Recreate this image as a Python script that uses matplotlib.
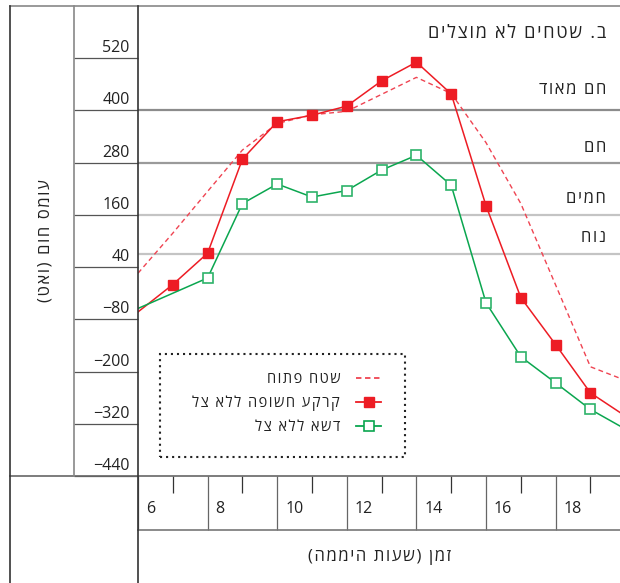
import matplotlib
matplotlib.use("Agg")
import matplotlib.pyplot as plt
from matplotlib.lines import Line2D
from matplotlib.patches import Rectangle
from matplotlib.transforms import ScaledTranslation

plt.rcParams["font.family"] = ["Open Sans", "DejaVu Sans"]
plt.rcParams["axes.unicode_minus"] = True

# hours of the day
hours = [6, 7, 8, 9, 10, 11, 12, 13, 14, 15, 16, 17, 18, 19, 20]
open_area = [26, 118, 214, 309, 370, 390, 398, 437, 476, 439, 326, 186, -1, -189, -220]
bare_soil = [-63, 0, 72, 288, 374, 389, 410, 468, 511, 438, 181, -30, -138, -249, -302]
grass_hours = [6, 8, 9, 10, 11, 12, 13, 14, 15, 16, 17, 18, 19, 20]
grass = [-55, 15, 186, 231, 201, 216, 263, 297, 228, -42, -166, -226, -287, -332]

yticks = [520, 400, 280, 160, 40, -80, -200, -320, -440]
xticks_major = [6, 8, 10, 12, 14, 16, 18]
xticks_minor = [7, 9, 11, 13, 15, 17, 19]

# comfort zones (heat load thresholds) and where their names sit
zone_lines = [400, 280, 160, 70]
zone_colors = ["#8c8c8c", "#9a9a9a", "#c4c4c4", "#c4c4c4"]
zone_names = ["חם מאוד", "חם", "חמים", "נוח"]
zone_label_y = [446, 314, 196, 107]

title = "ב. שטחים לא מוצלים"
ylabel = "עומס חום (ואט)"
xlabel = "זמן (שעות היממה)"
series_names = ["שטח פתוח", "קרקע חשופה ללא צל", "דשא ללא צל"]

RED = "#ed1c24"
RED_DASH = "#ef4452"
GREEN = "#0aa64f"


def rtl(s):
    # matplotlib has no bidi support: flip to visual order, mirror brackets,
    # and open the letters up a little with hair spaces
    swap = {"(": ")", ")": "("}
    return "\u200a".join(swap.get(c, c) for c in reversed(s))


W, H = 620, 583
fig = plt.figure(figsize=(W / 100, H / 100), dpi=100)


def fx(x):
    return x / W


def fy(y):
    return 1 - y / H


ax = fig.add_axes([fx(138), fy(476), fx(620) - fx(138), fy(6) - fy(476)])
ax.set_xlim(6, 19.85)
ax.set_ylim(-440, 640)
for s in ax.spines.values():
    s.set_visible(False)

for v, c in zip(zone_lines, zone_colors):
    ax.axhline(v, color=c, lw=1.6, zorder=1)

mark_red = [6 < h < 20 for h in hours]
mark_green = [6 < h < 20 for h in grass_hours]

ax.plot(hours, open_area, color=RED_DASH, lw=1.0, ls=(0, (3.5, 2.5)), zorder=2)
ax.plot(hours, bare_soil, color=RED, lw=1.1, marker="s", ms=7.5,
        mfc=RED, mec=RED, markevery=mark_red, zorder=3)
ax.plot(grass_hours, grass, color=GREEN, lw=1.1, marker="s", ms=7.5,
        mfc="white", mec="#2db36a", mew=1.2, markevery=mark_green, zorder=3)

# y axis: long outward ticks form the scale column, values sit above each line
ax.set_yticks(yticks, [f"{v}".replace("-", "\u2212") for v in yticks])
ax.tick_params(axis="y", direction="out", length=46, width=0.9, color="#555555",
               pad=-40, labelsize=11.5, labelcolor="#222222")
for lab in ax.get_yticklabels():
    lab.set_verticalalignment("baseline")
    lab.set_transform(lab.get_transform() + ScaledTranslation(0, 0.06, fig.dpi_scale_trans))

# x axis: hour cells every 2 h, short ticks on the odd hours
ax.set_xticks(xticks_major, [str(v) for v in xticks_major])
ax.set_xticks(xticks_minor, minor=True)
ax.tick_params(axis="x", which="major", direction="out", length=39, width=0.9,
               color="#666666", pad=-12.7, labelsize=11.5, labelcolor="#222222")
ax.tick_params(axis="x", which="minor", direction="out", length=12.5, width=0.9,
               color="#333333")
for lab in ax.get_xticklabels():
    lab.set_horizontalalignment("left")
    lab.set_verticalalignment("baseline")
    lab.set_transform(lab.get_transform() + ScaledTranslation(0.08, 0, fig.dpi_scale_trans))

yx = ax.get_yaxis_transform()
for name, y in zip(zone_names, zone_label_y):
    ax.text(0.971, y, rtl(name), transform=yx, ha="right", va="center",
            fontsize=12, color="#222222")
ax.text(0.971, 579, rtl(title), transform=yx, ha="right", va="center",
        fontsize=13, color="#222222")

# frame lines around the scale column and the hour row
frame = [
    ((9.5, 620), (6, 6), "#888888"),
    ((9.5, 620), (476, 476), "#666666"),
    ((138, 620), (530, 530), "#777777"),
    ((9.5, 9.5), (6, 583), "#333333"),
    ((74, 74), (6, 476), "#888888"),
    ((138, 138), (6, 583), "#333333"),
]
for xs, ys, c in frame:
    fig.add_artist(Line2D([fx(x) for x in xs], [fy(y) for y in ys],
                          transform=fig.transFigure, color=c, lw=1.2))

fig.text(fx(45), fy(241), rtl(ylabel), rotation=90, ha="center", va="center",
         fontsize=12, color="#222222")
fig.text(fx(379), fy(557), rtl(xlabel), ha="center", va="center",
         fontsize=12, color="#222222")

# legend: symbols on the right of the labels, dotted box around
handles = [
    Line2D([], [], color=RED_DASH, lw=1.3, ls=(0, (3, 2))),
    Line2D([], [], color=RED, lw=1.3, marker="s", ms=7.5, mfc=RED, mec=RED),
    Line2D([], [], color=GREEN, lw=1.3, marker="s", ms=7.5, mfc="white", mec=GREEN, mew=1.2),
]
fig.legend(handles, [rtl(n) for n in series_names], loc="center right",
           bbox_to_anchor=(fx(381), fy(403.5)), bbox_transform=fig.transFigure,
           frameon=False, markerfirst=False, handlelength=1.7, fontsize=10.5,
           handletextpad=1.1, labelspacing=0.6, borderpad=0, borderaxespad=0,
           labelcolor="#222222")
fig.add_artist(Rectangle((fx(160), fy(456.5)), fx(405) - fx(160), fy(354) - fy(456.5),
                         transform=fig.transFigure, fill=False, ec="#222222",
                         lw=1.5, ls=(0, (1, 1.9))))

fig.savefig("out.png", dpi=100)
